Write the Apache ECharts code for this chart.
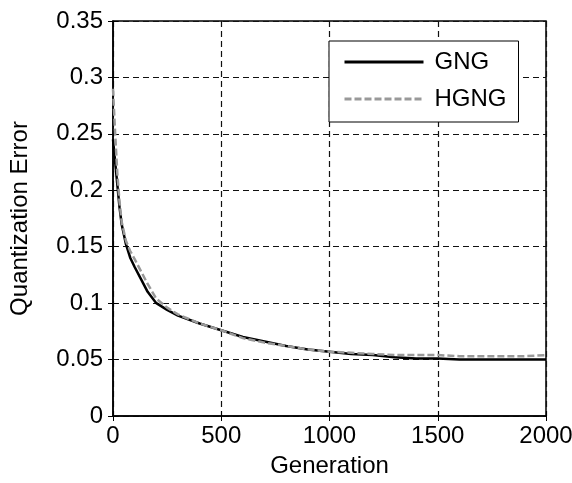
<!DOCTYPE html>
<html>
<head>
<meta charset="utf-8">
<script src="https://cdn.jsdelivr.net/npm/echarts@6/dist/echarts.min.js"></script>
<style>html,body{margin:0;padding:0;background:#fff}#c{width:572px;height:483px}</style>
</head>
<body>
<div id="c"></div>
<script>
const generations = [0, 10, 20, 30, 40, 60, 80, 100, 130, 160, 200, 250, 300, 400, 500, 600, 700, 800, 900, 1000, 1100, 1200, 1300, 1400, 1500, 1600, 1700, 1800, 1900, 2000];
const gngValues  = [0.245, 0.225, 0.205, 0.185, 0.170, 0.152, 0.140, 0.132, 0.121, 0.110, 0.100, 0.094, 0.089, 0.082, 0.076, 0.070, 0.066, 0.062, 0.059, 0.057, 0.055, 0.054, 0.052, 0.051, 0.051, 0.050, 0.050, 0.050, 0.050, 0.050];
const hgngValues = [0.290, 0.250, 0.215, 0.190, 0.172, 0.155, 0.146, 0.139, 0.128, 0.117, 0.104, 0.096, 0.090, 0.082, 0.076, 0.069, 0.065, 0.062, 0.059, 0.057, 0.056, 0.055, 0.054, 0.054, 0.054, 0.053, 0.053, 0.053, 0.053, 0.054];
const xTicks = [0, 500, 1000, 1500, 2000];
const yTicks = [0, 0.05, 0.1, 0.15, 0.2, 0.25, 0.3, 0.35];
const seriesNames = ['GNG', 'HGNG'];

const FONT = 'Liberation Sans';
const chart = echarts.init(document.getElementById('c'));
const pair = (xs, ys) => xs.map((x, i) => [x, ys[i]]);
const tick = {show: true, inside: true, length: 5, lineStyle: {color: '#000'}};
chart.setOption({
  animation: false,
  backgroundColor: '#fff',
  grid: {left: 113, right: 26, top: 21, bottom: 67, show: true, borderColor: '#000', borderWidth: 1.5,
    backgroundColor: 'transparent', outerBoundsMode: 'none', containLabel: false},
  legend: {
    data: seriesNames,
    orient: 'vertical',
    left: 329, top: 41,
    backgroundColor: '#fff',
    borderColor: '#000', borderWidth: 1,
    padding: [9, 12, 11, 14],
    itemWidth: 79, itemHeight: 14, itemGap: 13,
    itemStyle: {opacity: 0},
    lineStyle: {width: 3},
    textStyle: {fontFamily: FONT, fontSize: 24, color: '#000', padding: [0, 0, 0, 6], lineHeight: 24}
  },
  xAxis: [{
    type: 'value', min: 0, max: 2000, interval: 500,
    name: 'Generation', nameLocation: 'middle', nameGap: 38,
    nameTextStyle: {fontFamily: FONT, fontSize: 24, color: '#000'},
    axisLine: {show: true, lineStyle: {color: '#000', width: 1.5}},
    axisTick: tick,
    axisLabel: {fontFamily: FONT, fontSize: 24, color: '#000', margin: 8,
      formatter: v => String(v)},
    splitLine: {show: true, lineStyle: {color: '#111', type: [6, 4], width: 1.2}}
  }, {
    type: 'value', position: 'top', min: 0, max: 2000, interval: 500,
    axisLine: {show: false}, axisTick: tick, axisLabel: {show: false}, splitLine: {show: false}
  }],
  yAxis: [{
    type: 'value', min: 0, max: 0.35, interval: 0.05,
    name: 'Quantization Error', nameLocation: 'middle', nameGap: 81,
    nameTextStyle: {fontFamily: FONT, fontSize: 24, color: '#000'},
    axisLine: {show: true, lineStyle: {color: '#000', width: 1.5}},
    axisTick: tick,
    axisLabel: {fontFamily: FONT, fontSize: 24, color: '#000', margin: 10,
      formatter: v => String(+v.toFixed(2))},
    splitLine: {show: true, lineStyle: {color: '#111', type: [6, 4], width: 1.2}}
  }, {
    type: 'value', position: 'right', min: 0, max: 0.35, interval: 0.05,
    axisLine: {show: false}, axisTick: tick, axisLabel: {show: false}, splitLine: {show: false}
  }],
  series: [{
    name: seriesNames[0], type: 'line', symbol: 'none', z: 3,
    data: pair(generations, gngValues),
    lineStyle: {color: '#000', width: 2.5},
    itemStyle: {color: '#000'}
  }, {
    name: seriesNames[1], type: 'line', symbol: 'none', z: 4,
    data: pair(generations, hgngValues),
    lineStyle: {color: '#999', width: 2.5, type: [7, 3]},
    itemStyle: {color: '#999'}
  }]
});
</script>
</body>
</html>
